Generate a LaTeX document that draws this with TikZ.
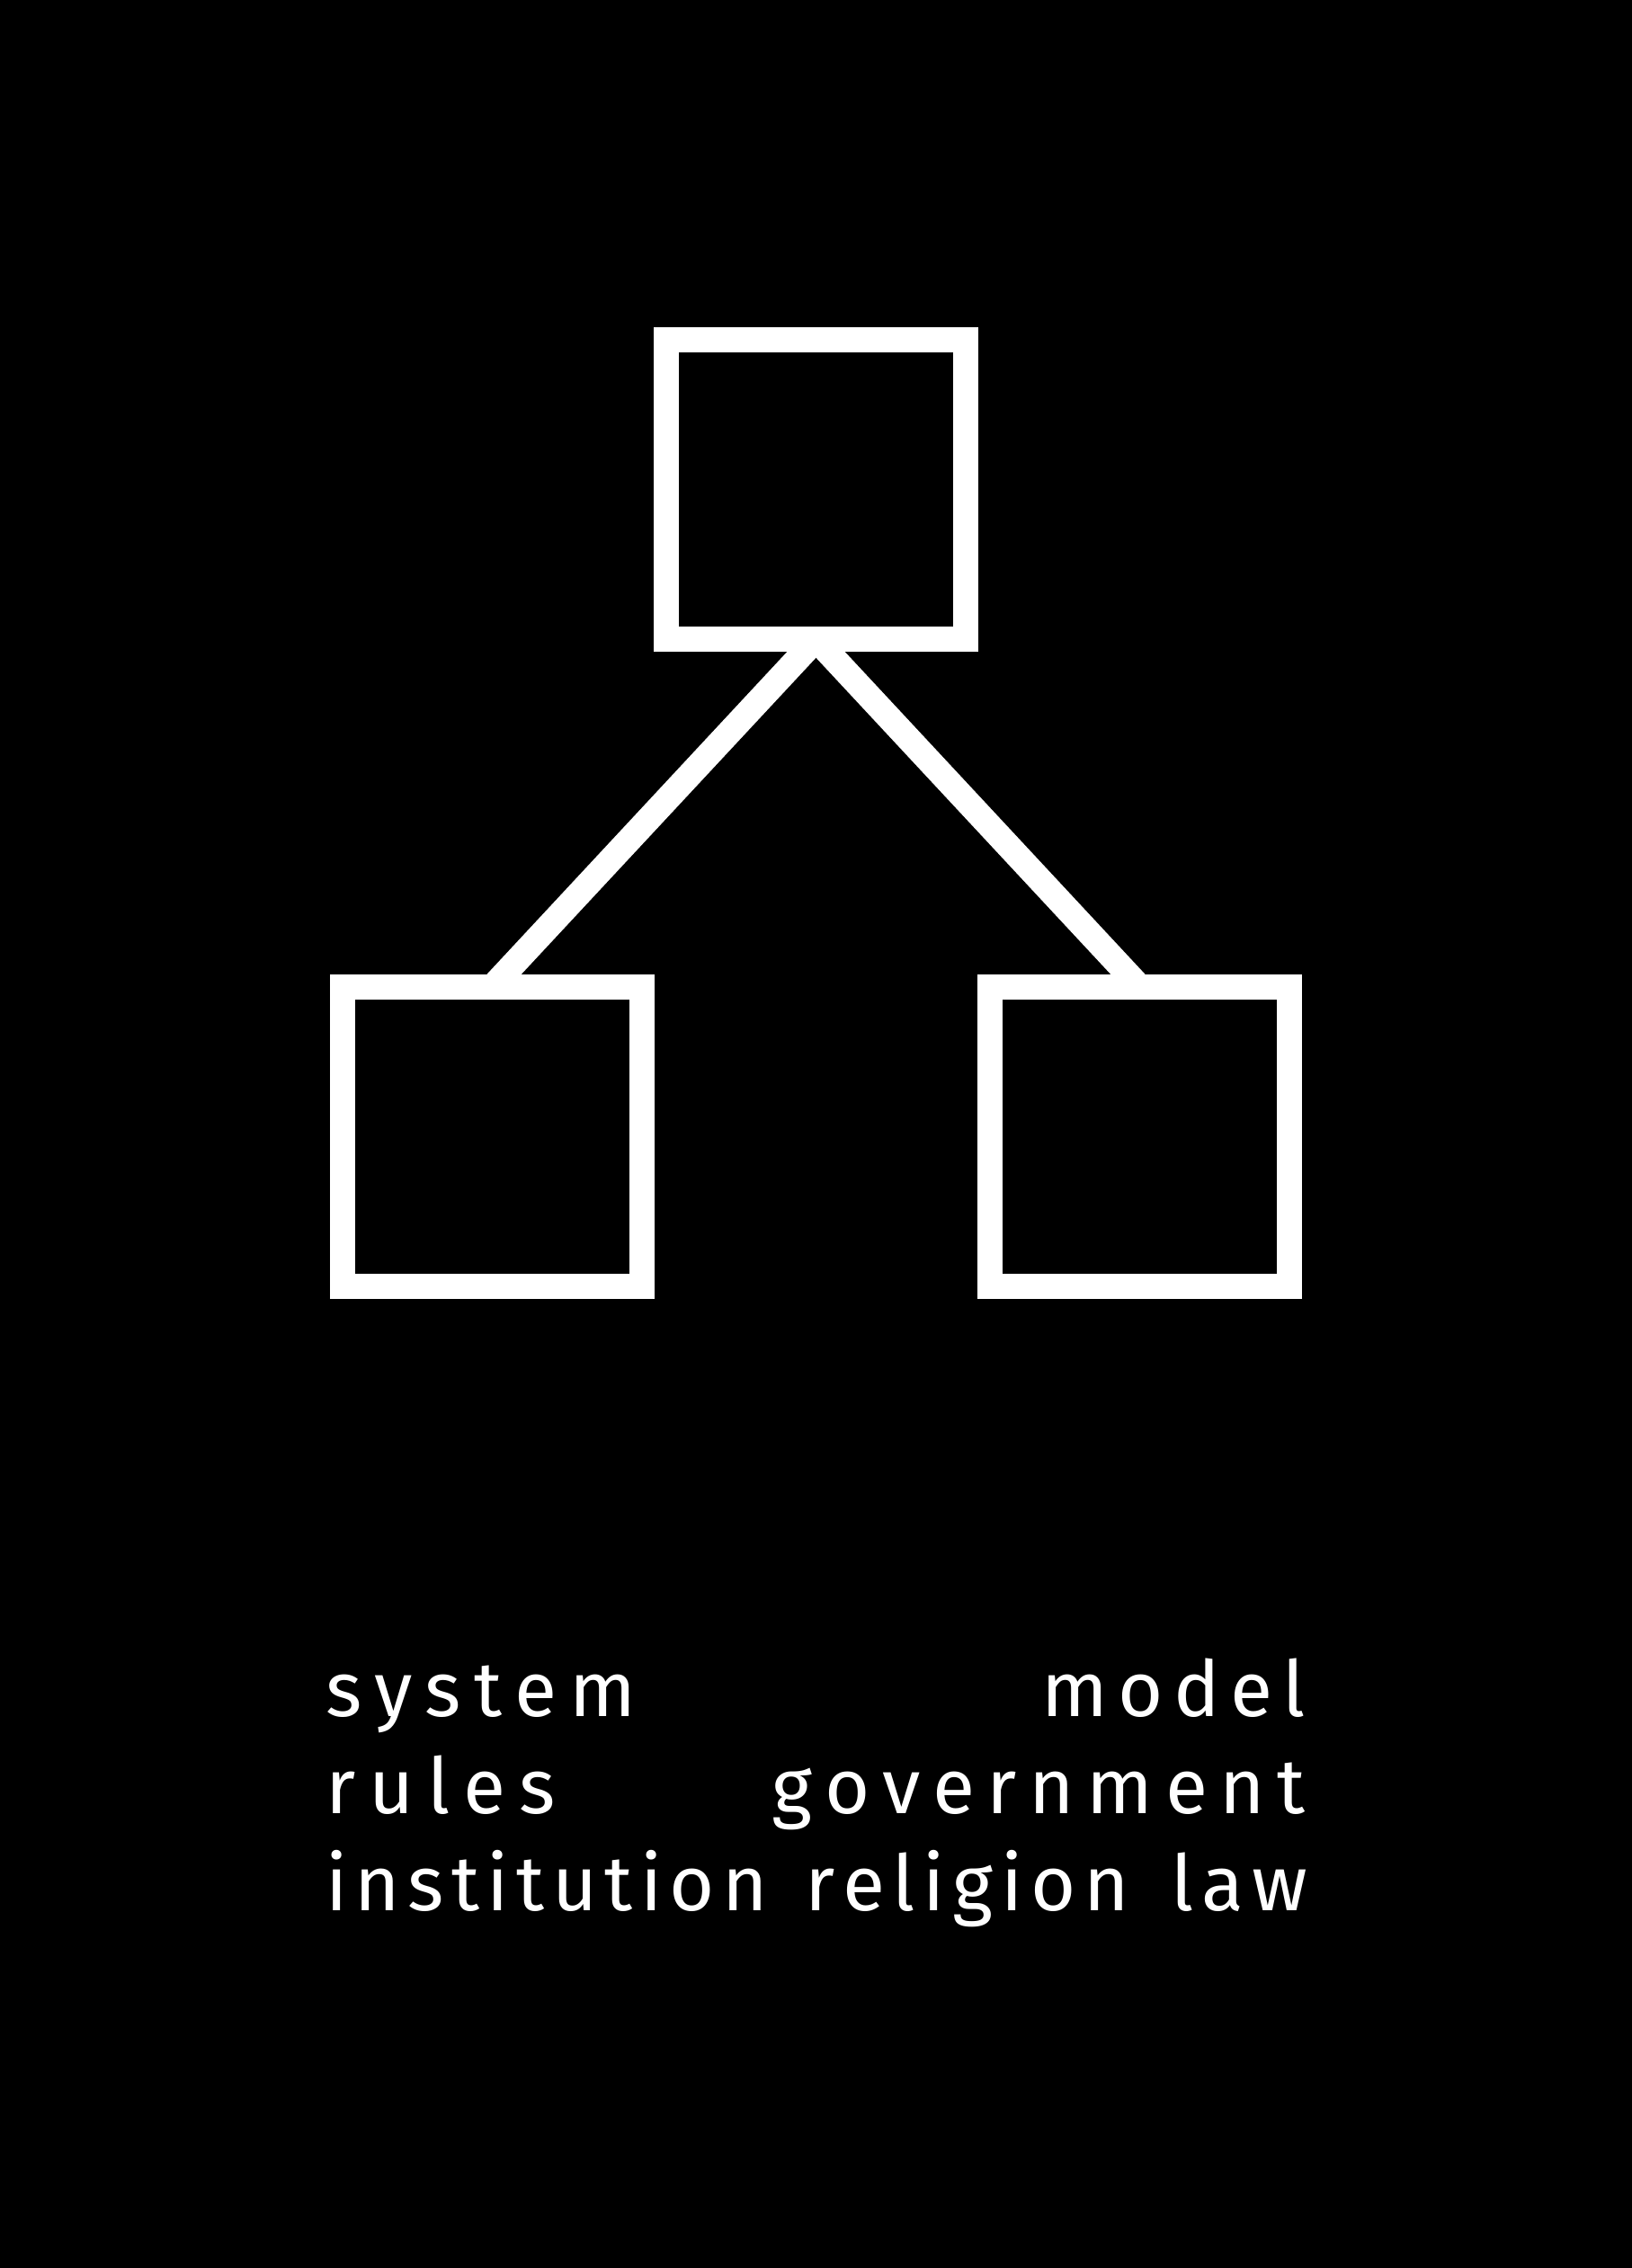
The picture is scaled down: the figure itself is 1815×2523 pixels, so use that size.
\documentclass[tikz,border=0pt]{standalone}
\usepackage{fontspec}
\setmainfont{Fira Sans}
\begin{document}
\begin{tikzpicture}[x=0.01cm,y=-0.01cm,
  box/.style={draw=white,line width=0.28cm,minimum size=3.33cm,inner sep=0pt,outer sep=0pt,shape=rectangle},
  link/.style={draw=white,line width=0.28cm},
  word/.style={text=white,inner sep=0pt,outer sep=0pt,font=\fontsize{24.5pt}{29pt}\selectfont}]
\fill[black] (0,0) rectangle (1815,2523);
\useasboundingbox (0,0) rectangle (1815,2523);
\node[box] (top) at (907.5,544.5) {};
\node[box] (left) at (547.5,1264.5) {};
\node[box] (right) at (1267.5,1264.5) {};
\draw[link] (top.south) -- (left.north);
\draw[link] (top.south) -- (right.north);
\node[word,anchor=base west] (w1) at (362,1909) {\makebox[3.45cm][s]{s\hfil y\hfil s\hfil t\hfil e\hfil m}};
\node[word,anchor=base east] (w2) at (1452,1909) {\makebox[2.93cm][s]{m\hfil o\hfil d\hfil e\hfil l}};
\node[word,anchor=base west] (w3) at (362,2017) {\makebox[2.56cm][s]{r\hfil u\hfil l\hfil e\hfil s}};
\node[word,anchor=base east] (w4) at (1452,2017) {\makebox[5.93cm][s]{g\hfil o\hfil v\hfil e\hfil r\hfil n\hfil m\hfil e\hfil n\hfil t}};
\node[word,anchor=base west] (w5) at (362,2125) {\makebox[4.92cm][s]{i\hfil n\hfil s\hfil t\hfil i\hfil t\hfil u\hfil t\hfil i\hfil o\hfil n}};
\node[word,anchor=base west] (w6) at (895,2125) {\makebox[3.61cm][s]{r\hfil e\hfil l\hfil i\hfil g\hfil i\hfil o\hfil n}};
\node[word,anchor=base east] (w7) at (1454,2125) {\makebox[1.51cm][s]{l\hfil a\hfil w}};
\end{tikzpicture}
\end{document}
